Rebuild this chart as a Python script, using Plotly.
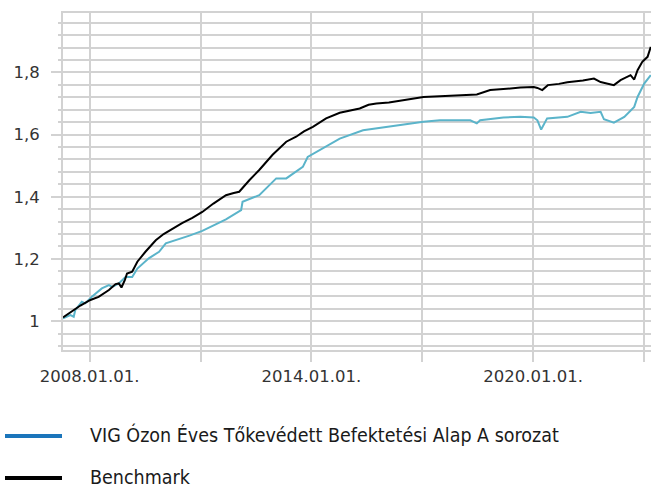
import plotly.graph_objects as go

# ---- data ----
fund_dates = [
    "2007-04-12", "2007-06-24", "2007-07-27", "2007-08-11", "2007-10-15", "2007-11-17",
    "2008-01-22", "2008-04-30", "2008-07-09", "2008-08-11", "2008-10-15", "2008-12-20",
    "2009-02-24", "2009-04-16", "2009-08-07", "2009-11-17", "2010-01-22", "2010-04-30",
    "2010-09-13", "2011-01-18", "2011-09-09", "2012-02-06", "2012-02-20", "2012-08-03",
    "2013-01-18", "2013-04-27", "2013-10-08", "2013-11-25", "2014-03-21", "2014-10-08",
    "2015-05-26", "2015-10-05", "2016-04-20", "2016-09-13", "2017-01-12", "2017-06-24",
    "2018-04-20", "2018-06-24", "2018-07-27", "2019-03-14", "2019-08-29", "2020-01-08",
    "2020-02-13", "2020-03-21", "2020-05-19", "2020-12-05", "2021-04-16", "2021-07-23",
    "2021-10-30", "2021-12-02", "2022-03-10", "2022-06-21", "2022-09-27", "2022-10-30",
    "2023-01-04", "2023-03-10",
]
fund_values = [
    1.009, 1.019, 1.014, 1.035, 1.062, 1.057,
    1.078, 1.105, 1.116, 1.110, 1.121, 1.142,
    1.142, 1.169, 1.202, 1.223, 1.250, 1.260,
    1.275, 1.290, 1.327, 1.357, 1.384, 1.405,
    1.459, 1.459, 1.496, 1.528, 1.550, 1.587,
    1.614, 1.620, 1.628, 1.636, 1.641, 1.646,
    1.646, 1.636, 1.646, 1.655, 1.657, 1.655,
    1.646, 1.616, 1.652, 1.657, 1.673, 1.669,
    1.673, 1.649, 1.638, 1.657, 1.689, 1.721,
    1.764, 1.791,
]

bench_dates = [
    "2007-04-12", "2007-07-02", "2007-10-01", "2008-01-08", "2008-03-29", "2008-07-09",
    "2008-09-13", "2008-10-15", "2008-11-10", "2008-12-13", "2009-01-04", "2009-02-24",
    "2009-04-16", "2009-07-05", "2009-10-15", "2010-01-01", "2010-03-29", "2010-07-02",
    "2010-10-12", "2011-01-18", "2011-05-08", "2011-09-09", "2011-11-25", "2012-01-18",
    "2012-04-27", "2012-08-03", "2012-12-13", "2013-04-27", "2013-08-03", "2013-10-19",
    "2014-01-15", "2014-05-26", "2014-10-08", "2015-01-18", "2015-04-23", "2015-07-20",
    "2015-10-05", "2016-02-06", "2016-07-02", "2016-10-19", "2017-01-12", "2017-06-24",
    "2018-01-01", "2018-06-24", "2018-11-03", "2019-03-14", "2019-08-29", "2020-01-08",
    "2020-02-13", "2020-04-01", "2020-05-26", "2020-09-13", "2020-12-05", "2021-05-08",
    "2021-08-25", "2021-10-30", "2022-01-04", "2022-03-10", "2022-05-15", "2022-08-22",
    "2022-09-27", "2022-10-19", "2022-10-30", "2022-12-16", "2023-02-06", "2023-03-10",
]
bench_values = [
    1.012, 1.030, 1.050, 1.068, 1.078, 1.100,
    1.119, 1.121, 1.108, 1.132, 1.153, 1.159,
    1.191, 1.223, 1.260, 1.280, 1.298, 1.315,
    1.332, 1.351, 1.378, 1.405, 1.412, 1.416,
    1.453, 1.486, 1.535, 1.577, 1.593, 1.610,
    1.625, 1.652, 1.670, 1.678, 1.684, 1.696,
    1.700, 1.703, 1.711, 1.718, 1.721, 1.723,
    1.726, 1.729, 1.743, 1.747, 1.751, 1.753,
    1.750, 1.743, 1.759, 1.763, 1.768, 1.774,
    1.780, 1.769, 1.764, 1.759, 1.775, 1.791,
    1.777, 1.800, 1.807, 1.834, 1.850, 1.882,
]

x_tick_vals = ["2008-01-01", "2011-01-01", "2014-01-01", "2017-01-01", "2020-01-01", "2023-01-01"]
x_tick_text = ["2008.01.01.", "", "2014.01.01.", "", "2020.01.01.", ""]

legend_names = ["VIG Ózon Éves Tőkevédett Befektetési Alap A sorozat", "Benchmark"]
legend_colors = ["#1b75bb", "#000000"]

# ---- layout geometry ----
W, H = 651, 489
L, R, T, B = 63, 0, 13, 139
PW, PH = W - L - R, H - T - B
GRID = "#d2d2d2"
TICKFONT = dict(family="DejaVu Sans", size=16.5, color="#333333")


def px2paper(x, y):
    return (x - L) / PW, (H - B - y) / PH


fig = go.Figure()
fig.add_trace(go.Scatter(x=fund_dates, y=fund_values, mode="lines",
                         line=dict(color="#5bb4ca", width=2), name=legend_names[0],
                         showlegend=False))
fig.add_trace(go.Scatter(x=bench_dates, y=bench_values, mode="lines",
                         line=dict(color="#000000", width=2), name=legend_names[1],
                         showlegend=False))

shapes = []
annotations = []
for i, (name, col) in enumerate(zip(legend_names, legend_colors)):
    yy = 436 + i * 42
    x0, y0 = px2paper(5, yy)
    x1, _ = px2paper(62, yy)
    shapes.append(dict(type="line", xref="paper", yref="paper", x0=x0, x1=x1, y0=y0, y1=y0,
                       line=dict(color=col, width=4)))
    tx, ty = px2paper(89, yy - 1)
    annotations.append(dict(xref="paper", yref="paper", x=tx, y=ty, xanchor="left", yanchor="middle",
                            text=name, showarrow=False, borderpad=0,
                            font=dict(family="DejaVu Sans Condensed, Roboto, sans-serif",
                                      size=19.5, color="#1a1a1a")))

fig.update_layout(
    width=W, height=H,
    margin=dict(l=L, r=R, t=T, b=B, pad=0),
    paper_bgcolor="white", plot_bgcolor="white",
    separators=", ",
    shapes=shapes, annotations=annotations,
    showlegend=False,
)
fig.update_xaxes(
    type="date", range=["2007-04-12", "2023-03-12"],
    tickvals=x_tick_vals, ticktext=x_tick_text,
    showgrid=True, gridcolor=GRID, gridwidth=2,
    ticks="outside", ticklen=10, tickwidth=2, tickcolor=GRID,
    showline=True, linecolor=GRID, linewidth=2, mirror=True,
    tickfont=TICKFONT, zeroline=False,
)
fig.update_yaxes(
    range=[0.907, 1.991], tick0=1, dtick=0.2,
    showgrid=True, gridcolor=GRID, gridwidth=2,
    ticks="outside", ticklen=10, tickwidth=2, tickcolor=GRID,
    showline=True, linecolor=GRID, linewidth=2,
    tickfont=TICKFONT, zeroline=False, ticklabelstandoff=8,
    minor=dict(tick0=1, dtick=0.04, showgrid=True, gridcolor=GRID, gridwidth=2,
               ticks="outside", ticklen=3, tickwidth=2, tickcolor=GRID),
)

fig.write_html("out.html", config={"displayModeBar": False},
               post_script="document.body.style.margin='0';")
